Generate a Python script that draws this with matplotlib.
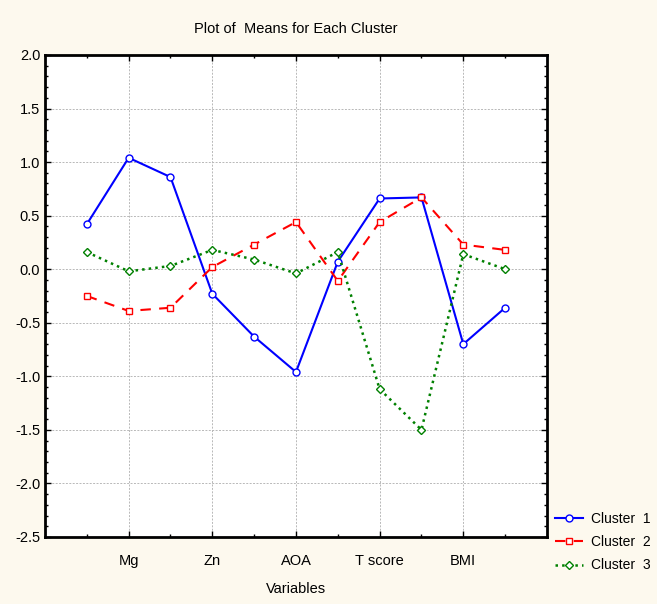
import numpy as np
import matplotlib
matplotlib.use("Agg")
import matplotlib.pyplot as plt
from matplotlib.ticker import MultipleLocator, FixedLocator

plt.rcParams['font.family'] = ['Liberation Sans', 'DejaVu Sans']

# data
tick_labels = ["Mg", "Zn", "AOA", "T score", "BMI"]
tick_pos = [1, 3, 5, 7, 9]
idx = list(range(11))
cluster1 = [0.42, 1.04, 0.86, -0.23, -0.63, -0.96, 0.07, 0.66, 0.67, -0.70, -0.36]
cluster2 = [-0.25, -0.39, -0.36, 0.02, 0.23, 0.44, -0.11, 0.44, 0.67, 0.23, 0.18]
cluster3 = [0.16, -0.02, 0.03, 0.18, 0.09, -0.04, 0.16, -1.12, -1.50, 0.14, 0.0]

fig = plt.figure(figsize=(6.57, 6.04), dpi=100, facecolor="#fdf9ee")
ax = fig.add_axes([0.0685, 0.111, 0.764, 0.798])
ax.set_facecolor("white")

ax.plot(idx, cluster1, "-", color="#0000ff", lw=1.5, marker="o", ms=5,
        mfc="white", mec="#0000ff", mew=1, label="Cluster  1")
ax.plot(idx, cluster2, "--", color="#ff0000", lw=1.5, dashes=(5, 4), marker="s", ms=5,
        mfc="white", mec="#ff0000", mew=1, label="Cluster  2")
ax.plot(idx, cluster3, ":", color="#008000", lw=1.8, marker="D", ms=4.5,
        mfc="white", mec="#008000", mew=1, label="Cluster  3")

ax.set_xlim(-1, 11)
ax.set_ylim(-2.5, 2.0)
ax.xaxis.set_major_locator(FixedLocator(tick_pos))
ax.set_xticklabels(tick_labels)
ax.xaxis.set_minor_locator(FixedLocator([0, 2, 4, 6, 8, 10]))
ax.yaxis.set_major_locator(MultipleLocator(0.5))
ax.yaxis.set_minor_locator(MultipleLocator(0.1))
ax.yaxis.set_major_formatter(matplotlib.ticker.FormatStrFormatter("%.1f"))

ax.grid(True, which="major", color="#b8b8b8", ls=(0, (2, 1.5)), lw=0.7)
ax.tick_params(which="both", direction="in", top=True, right=True, labelsize=10.5)
ax.tick_params(which="major", length=4, width=1)
ax.tick_params(which="minor", length=2, width=1)
ax.tick_params(axis="x", pad=12)
for s in ax.spines.values():
    s.set_linewidth(2)

ax.set_title("Plot of  Means for Each Cluster", fontsize=10.5, pad=16)
ax.set_xlabel("Variables", fontsize=10.5, labelpad=10)

ax.legend(loc="lower left", bbox_to_anchor=(1.005, -0.085), frameon=False,
          borderaxespad=0.2, borderpad=0.2,
          fontsize=10, handlelength=2.0, handletextpad=0.6, labelspacing=0.65)

fig.savefig("out.png", dpi=100, facecolor=fig.get_facecolor())
